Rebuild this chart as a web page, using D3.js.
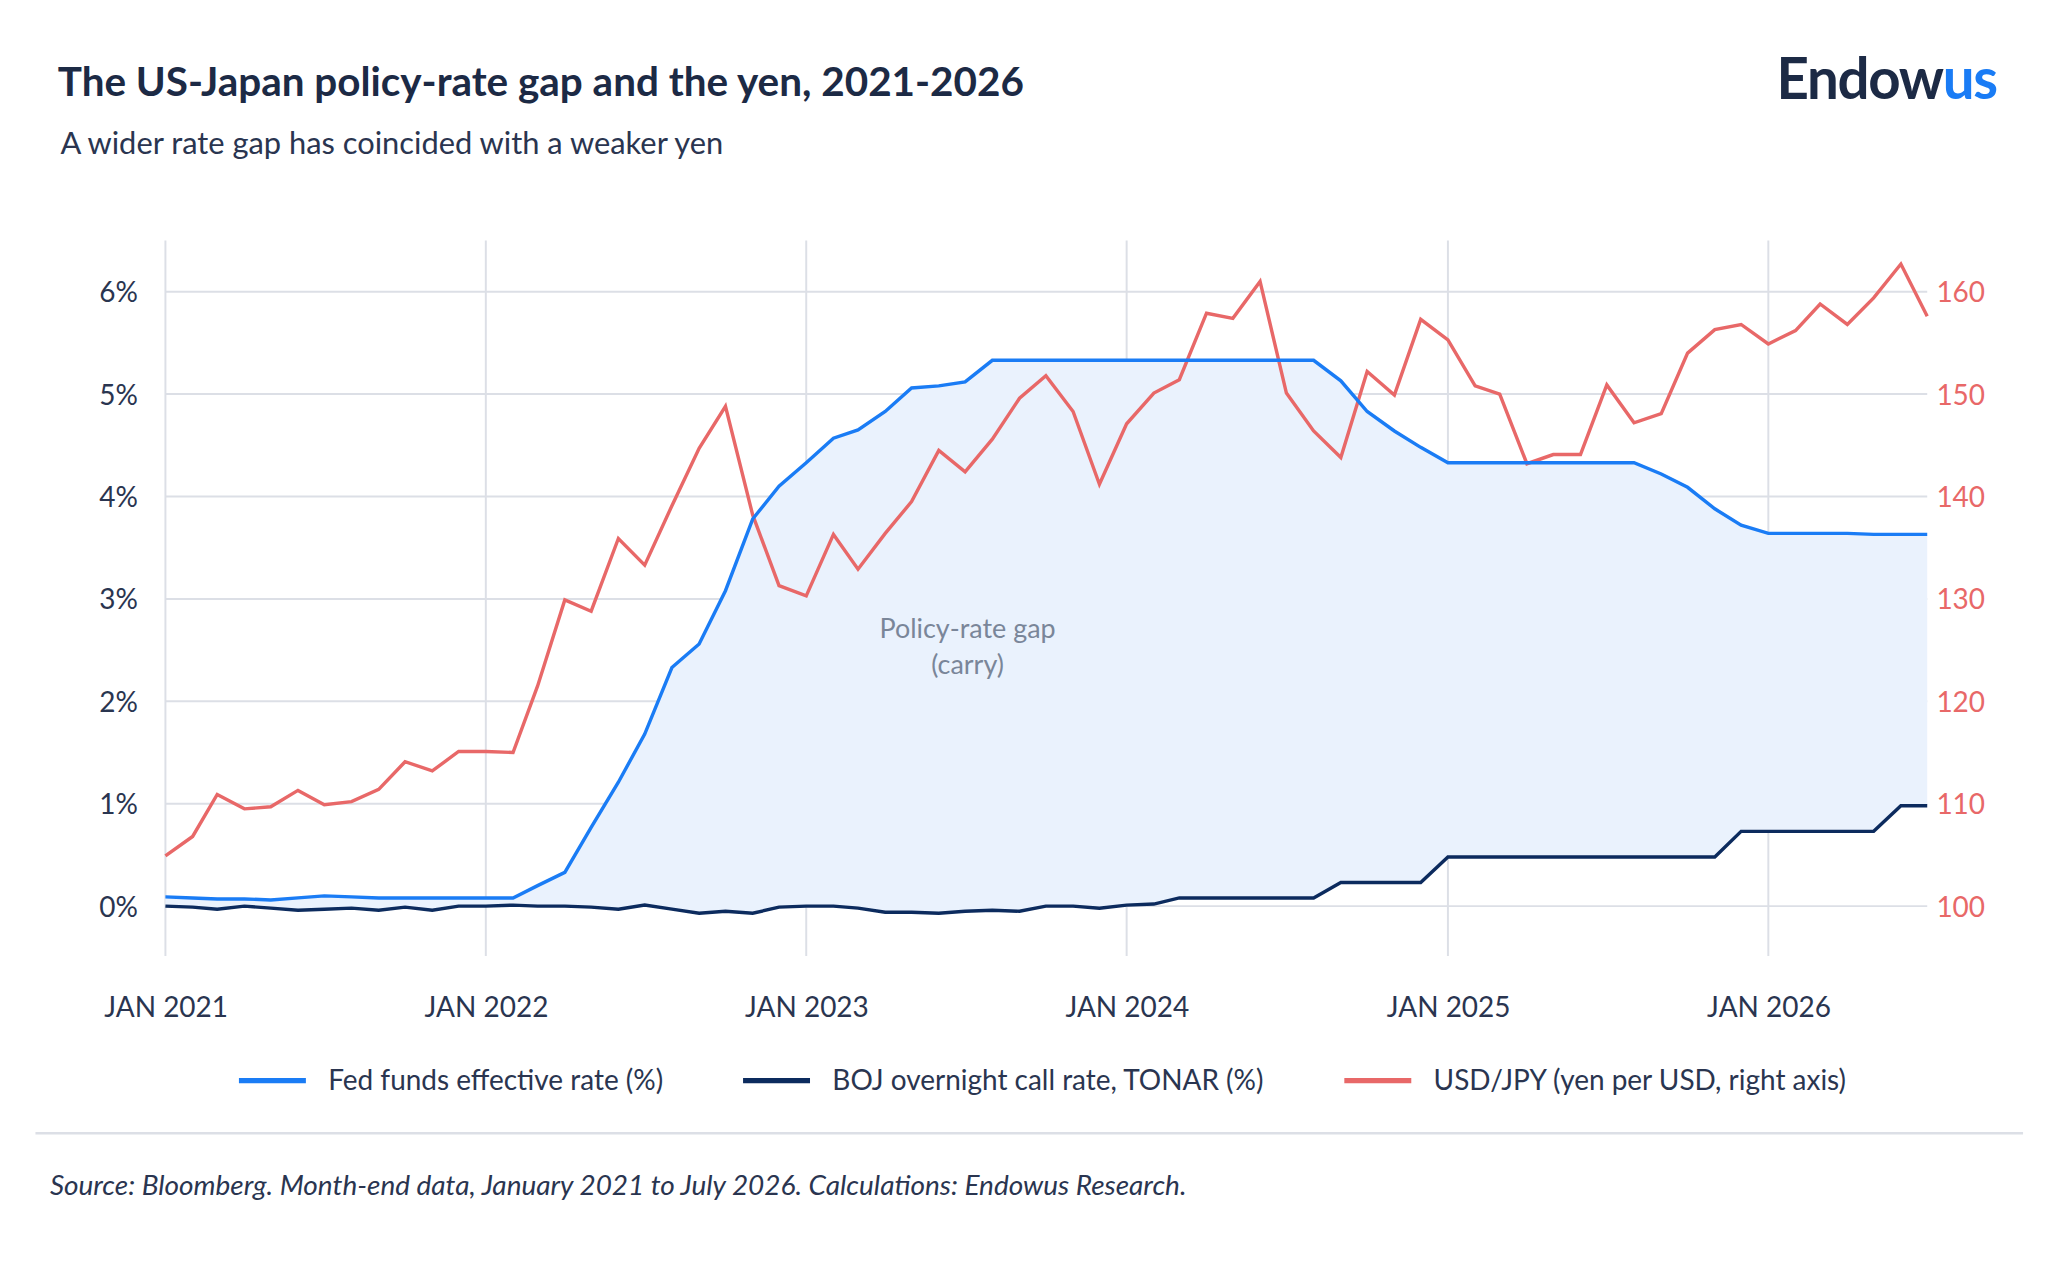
<!DOCTYPE html>
<html><head><meta charset="utf-8">
<script src="https://cdn.jsdelivr.net/npm/d3@7"></script>
<style>body{margin:0;background:#fff}svg{display:block;font-family:Lato,sans-serif}</style>
</head><body>
<svg id="chart" width="2048" height="1270" viewBox="0 0 1560 967"></svg>
<script>
// month-end data, Jan 2021 .. Jul 2026
const fed = [0.09,0.08,0.07,0.07,0.06,0.08,0.10,0.09,0.08,0.08,0.08,0.08,
  0.08,0.08,0.20,0.33,0.77,1.21,1.68,2.33,2.56,3.08,3.78,4.10,
  4.33,4.57,4.65,4.83,5.06,5.08,5.12,5.33,5.33,5.33,5.33,5.33,
  5.33,5.33,5.33,5.33,5.33,5.33,5.33,5.33,5.13,4.83,4.64,4.48,
  4.33,4.33,4.33,4.33,4.33,4.33,4.33,4.33,4.22,4.09,3.88,3.72,
  3.64,3.64,3.64,3.64,3.63,3.63,3.63];
const boj = [0,-0.01,-0.03,0,-0.02,-0.04,-0.03,-0.02,-0.04,-0.01,-0.04,0,
  0,0.01,0,0,-0.01,-0.03,0.01,-0.03,-0.07,-0.05,-0.07,-0.01,
  0,0,-0.02,-0.06,-0.06,-0.07,-0.05,-0.04,-0.05,0,0,-0.02,
  0.01,0.02,0.08,0.08,0.08,0.08,0.08,0.08,0.23,0.23,0.23,0.23,
  0.48,0.48,0.48,0.48,0.48,0.48,0.48,0.48,0.48,0.48,0.48,0.73,
  0.73,0.73,0.73,0.73,0.73,0.98,0.98];
const usdjpy = [104.9,106.8,110.9,109.5,109.7,111.3,109.9,110.2,111.4,114.1,113.2,115.1,
  115.1,115.0,121.5,129.9,128.8,135.9,133.3,139.1,144.7,148.8,138.2,131.3,
  130.3,136.3,132.9,136.4,139.5,144.5,142.4,145.6,149.6,151.8,148.3,141.2,
  147.1,150.1,151.4,157.9,157.4,161.0,150.1,146.4,143.8,152.2,149.9,157.3,
  155.3,150.8,150.0,143.2,144.1,144.1,150.9,147.2,148.1,154.0,156.3,156.8,
  154.9,156.2,158.8,156.8,159.4,162.7,157.6];
const leftTicks = [0,1,2,3,4,5,6];
const rightTicks = [100,110,120,130,140,150,160];
const yearTicks = [2021,2022,2023,2024,2025,2026];

const dates = fed.map((_, i) => new Date(2021, i, 1));
const svg = d3.select("#chart");
const L = 126, R = 1468, T = 183, B = 728;

const x = d3.scaleTime().domain([dates[0], dates[dates.length-1]]).range([L, R]);
const y = d3.scaleLinear().domain([-0.487, 6.5]).range([B, T]);
const y2 = d3.scaleLinear().domain([95.13, 165]).range([B, T]);

// header
svg.append("text").attr("x", 44).attr("y", 73).attr("font-size", 30.8).attr("font-weight", 700)
  .attr("fill", "#1c2a45").text("The US-Japan policy-rate gap and the yen, 2021-2026");
svg.append("text").attr("x", 46).attr("y", 117).attr("font-size", 23.5).attr("fill", "#2a3550")
  .text("A wider rate gap has coincided with a weaker yen");
const logo = svg.append("text").attr("x", 1521).attr("y", 75).attr("text-anchor", "end")
  .attr("font-size", 43).attr("font-weight", 700).attr("letter-spacing", -1);
logo.append("tspan").attr("fill", "#1c2a45").text("Endow");
logo.append("tspan").attr("fill", "#1a7cf5").text("us");

// grid
svg.append("g").selectAll("line").data(leftTicks).join("line")
  .attr("x1", L).attr("x2", R).attr("y1", d => y(d)).attr("y2", d => y(d))
  .attr("stroke", "#dcdfe6").attr("stroke-width", 1.5);
svg.append("g").selectAll("line").data(yearTicks).join("line")
  .attr("x1", d => x(new Date(d, 0, 1))).attr("x2", d => x(new Date(d, 0, 1)))
  .attr("y1", T).attr("y2", B).attr("stroke", "#dcdfe6").attr("stroke-width", 1.5);

// gap area
svg.append("path").datum(dates)
  .attr("d", d3.area().x(d => x(d)).y0((d, i) => y(boj[i])).y1((d, i) => y(fed[i])))
  .attr("fill", "#eaf2fd");

svg.append("text").attr("x", 737).attr("y", 486).attr("text-anchor", "middle")
  .attr("font-size", 20.5).attr("fill", "#7a8699")
  .selectAll("tspan").data(["Policy-rate gap", "(carry)"]).join("tspan")
  .attr("x", 737).attr("dy", (d, i) => i ? 27 : 0).text(d => d);

const line = (arr, sc) => d3.line().x((d, i) => x(dates[i])).y(d => sc(d))(arr);
svg.append("path").attr("d", line(usdjpy, y2)).attr("fill", "none").attr("stroke", "#e86868").attr("stroke-width", 2.6);
svg.append("path").attr("d", line(fed, y)).attr("fill", "none").attr("stroke", "#1a7cf5").attr("stroke-width", 2.6);
svg.append("path").attr("d", line(boj, y)).attr("fill", "none").attr("stroke", "#0c2b5e").attr("stroke-width", 2.6);

// axes
const yl = svg.append("g").attr("transform", `translate(${L - 18},0)`)
  .call(d3.axisLeft(y).tickValues(leftTicks).tickFormat(d => d + "%").tickSize(0));
const yr = svg.append("g").attr("transform", `translate(${R + 4},0)`)
  .call(d3.axisRight(y2).tickValues(rightTicks).tickSize(0));
const xa = svg.append("g").attr("transform", `translate(0,${B + 36})`)
  .call(d3.axisBottom(x).tickValues(yearTicks.map(d => new Date(d, 0, 1)))
    .tickFormat(d => "JAN " + d.getFullYear()).tickSize(0));
[yl, yr, xa].forEach(g => { g.select(".domain").remove(); g.selectAll("text").attr("font-size", 21.3).attr("font-family", "Lato"); });
yl.selectAll("text").attr("fill", "#2a3550").attr("dy", "0.35em");
yr.selectAll("text").attr("fill", "#e86868").attr("dy", "0.35em");
xa.selectAll("text").attr("fill", "#2a3550").attr("dy", "0.35em");

// legend
const legend = [
  {label: "Fed funds effective rate (%)", color: "#1a7cf5", x: 182},
  {label: "BOJ overnight call rate, TONAR (%)", color: "#0c2b5e", x: 566},
  {label: "USD/JPY (yen per USD, right axis)", color: "#e86868", x: 1024}
];
const lg = svg.append("g").selectAll("g").data(legend).join("g").attr("transform", d => `translate(${d.x},823)`);
lg.append("line").attr("x1", 0).attr("x2", 51).attr("stroke", d => d.color).attr("stroke-width", 4);
lg.append("text").attr("x", 68).attr("dy", "0.35em").attr("font-size", 21.3).attr("fill", "#2a3550").text(d => d.label);

svg.append("line").attr("x1", 27).attr("x2", 1541).attr("y1", 863).attr("y2", 863).attr("stroke", "#dcdfe6").attr("stroke-width", 2);
svg.append("text").attr("x", 38).attr("y", 910).attr("font-size", 21.3).attr("font-style", "italic").attr("fill", "#2a3550")
  .text("Source: Bloomberg. Month-end data, January 2021 to July 2026. Calculations: Endowus Research.");
</script>
</body></html>
